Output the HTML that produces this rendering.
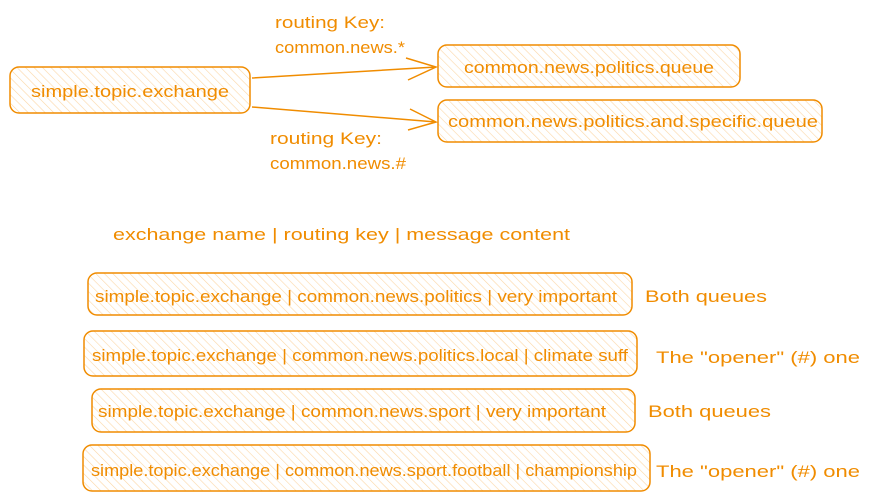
<!DOCTYPE html>
<html><head><meta charset="utf-8"><style>
html,body{margin:0;padding:0;background:#fff;width:870px;height:500px;overflow:hidden}
text{font-family:"Liberation Sans",sans-serif;fill:#f08c00;font-size:17px}
</style></head><body>
<svg width="870" height="500" viewBox="0 0 870 500" xmlns="http://www.w3.org/2000/svg">
<defs>
<pattern id="h" width="6" height="6" patternUnits="userSpaceOnUse" patternTransform="rotate(-45)">
<line x1="0" y1="0" x2="0" y2="6" stroke="#fbd7a6" stroke-width="1.2"/>
</pattern>
</defs>
<g stroke="#f08c00" stroke-width="1.5" fill="url(#h)">
<rect x="10" y="67" width="240" height="46" rx="9"/>
<rect x="438" y="45" width="302" height="42" rx="9"/>
<rect x="438" y="100" width="384" height="42" rx="9"/>
<rect x="88" y="273" width="544" height="42" rx="9"/>
<rect x="84" y="331" width="553" height="45" rx="9"/>
<rect x="92" y="389" width="543" height="43" rx="9"/>
<rect x="83" y="445" width="567" height="46" rx="9"/>
</g>
<g stroke="#f08c00" stroke-width="1.5" fill="none">
<path d="M252 78 L436 67 M406 58 L436 67 L408 80"/>
<path d="M252 107 L436 122 M410 109 L436 122 L408 130"/>
</g>
<text x="130" y="97" text-anchor="middle" textLength="198" lengthAdjust="spacingAndGlyphs">simple.topic.exchange</text>
<text x="589" y="73" text-anchor="middle" textLength="250" lengthAdjust="spacingAndGlyphs">common.news.politics.queue</text>
<text x="633" y="127" text-anchor="middle" textLength="370" lengthAdjust="spacingAndGlyphs">common.news.politics.and.specific.queue</text>
<text x="275" y="28" textLength="110" lengthAdjust="spacingAndGlyphs">routing Key:</text>
<text x="275" y="53" textLength="130" lengthAdjust="spacingAndGlyphs">common.news.*</text>
<text x="270" y="144" textLength="112" lengthAdjust="spacingAndGlyphs">routing Key:</text>
<text x="270" y="169" textLength="136" lengthAdjust="spacingAndGlyphs">common.news.#</text>
<text x="113" y="240" textLength="457" lengthAdjust="spacingAndGlyphs">exchange name | routing key | message content</text>
<text x="95" y="302" textLength="522" lengthAdjust="spacingAndGlyphs">simple.topic.exchange | common.news.politics | very important</text>
<text x="645" y="302" textLength="122" lengthAdjust="spacingAndGlyphs">Both queues</text>
<text x="92" y="361" textLength="536" lengthAdjust="spacingAndGlyphs">simple.topic.exchange | common.news.politics.local | climate suff</text>
<text x="656" y="363" textLength="204" lengthAdjust="spacingAndGlyphs">The "opener" (#) one</text>
<text x="98" y="417" textLength="508" lengthAdjust="spacingAndGlyphs">simple.topic.exchange | common.news.sport | very important</text>
<text x="648" y="417" textLength="123" lengthAdjust="spacingAndGlyphs">Both queues</text>
<text x="91" y="476" textLength="546" lengthAdjust="spacingAndGlyphs">simple.topic.exchange | common.news.sport.football | championship</text>
<text x="656" y="477" textLength="204" lengthAdjust="spacingAndGlyphs">The "opener" (#) one</text>
</svg>
</body></html>
